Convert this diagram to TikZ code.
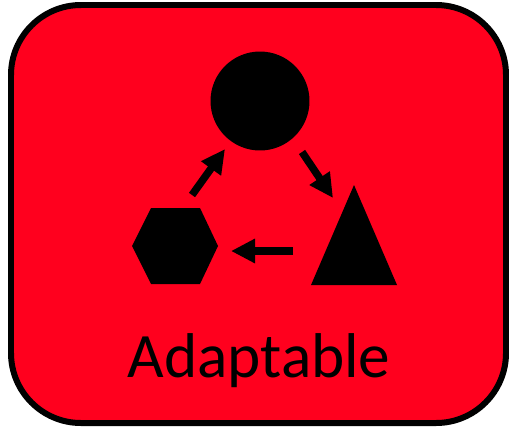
\documentclass[tikz,border=0pt]{standalone}
\usepackage{fontspec}
\setmainfont{Carlito}
\usetikzlibrary{arrows.meta}
\definecolor{panelred}{RGB}{255,0,30}
\tikzset{
  panel style/.style = {
    line width=0.12cm,
    fill=panelred,
    draw=black,
    rounded corners=1.4cm
  },
  shape style/.style = {
    fill=black,
    draw=none
  },
  flow arrow/.style = {
    -{Triangle[length=0.48cm,width=0.46cm]},
    line width=0.15cm,
    black
  }
}

\begin{document}
\begin{tikzpicture}[x=0.02cm,y=-0.02cm]

\useasboundingbox (0,0) rectangle (509,426);

% --- Panel ---
\draw[panel style] (11,5) rectangle (506,423);

% --- Shapes ---
\node[shape style, circle, inner sep=0pt, minimum size=1.98cm] (roundshape) at (260,101) {};
\fill[shape style] (354,185) -- (397,285) -- (311,285) -- cycle;
\fill[shape style] (132,246) -- (151,208) -- (200,208) -- (218,246) -- (200,284) -- (151,284) -- cycle;

% --- Arrow ends ---
\coordinate (roundout) at (302,152);
\coordinate (triin)    at (333,198);
\coordinate (triout)   at (293,251);
\coordinate (hexin)    at (231,251);
\coordinate (hexout)   at (192,195);
\coordinate (roundin)  at (225,149);

% --- Arrows ---
\draw[flow arrow] (roundout) -- (triin);
\draw[flow arrow] (triout) -- (hexin);
\draw[flow arrow] (hexout) -- (roundin);

% --- Label ---
\node[anchor=base, font=\fontsize{36}{36}\selectfont, inner sep=0pt] (title) at (259,377) {Adaptable};

\end{tikzpicture}
\end{document}
